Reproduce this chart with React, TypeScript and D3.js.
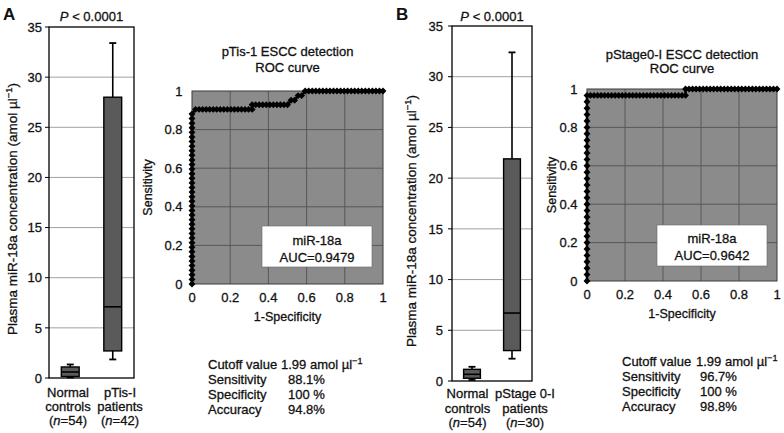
import React from "react";
import * as d3 from "d3";

const FONT = "'Liberation Sans', Arial, Helvetica, sans-serif";

// ---------- Box plot data ----------
const boxTicks = [0, 5, 10, 15, 20, 25, 30, 35];
const boxGrid = [5, 10, 15, 20, 25, 30];

const catsA = ["Normal controls", "pTis-I patients"];
const catLinesA = [["Normal", "controls"], ["pTis-I", "patients"]];
const catNA = [54, 42];
const boxMinA = [0.05, 1.85];
const boxQ1A = [0.15, 2.7];
const boxMedA = [0.6, 7.1];
const boxQ3A = [1.1, 28.0];
const boxMaxA = [1.35, 33.4];

const catsB = ["Normal controls", "pStage 0-I patients"];
const catLinesB = [["Normal", "controls"], ["pStage 0-I", "patients"]];
const catNB = [54, 30];
const boxMinB = [0.1, 2.2];
const boxQ1B = [0.27, 3.0];
const boxMedB = [0.66, 6.7];
const boxQ3B = [1.15, 21.9];
const boxMaxB = [1.4, 32.4];

// ---------- ROC data (counts: false positives of 54 controls, true positives of patients) ----------
const rocTicks = [0, 0.2, 0.4, 0.6, 0.8, 1];

const rocA_nNeg = 54;
const rocA_nPos = 42;
const rocA_fp = [
  0, 0, 0, 0, 0, 0, 0, 0, 0, 0, 0, 0, 0, 0, 0, 0, 0, 0, 0, 0,
  0, 0, 0, 0, 0, 0, 0, 0, 0, 0, 0, 0, 0, 0, 0, 0, 0, 0,
  1, 2, 3, 4, 5, 6, 7, 8, 9, 10, 11, 12, 13, 14, 15, 16, 17,
  17, 18, 19, 20, 21, 22, 23, 24, 25, 26, 27,
  28, 29, 30, 31, 32,
  33, 34, 35, 36, 37, 38, 39, 40, 41, 42, 43, 44, 45, 46, 47, 48, 49, 50, 51, 52, 53, 54,
];
const rocA_tp = [
  0, 1, 2, 3, 4, 5, 6, 7, 8, 9, 10, 11, 12, 13, 14, 15, 16, 17, 18, 19,
  20, 21, 22, 23, 24, 25, 26, 27, 28, 29, 30, 31, 32, 33, 34, 35, 36, 37,
  38, 38, 38, 38, 38, 38, 38, 38, 38, 38, 38, 38, 38, 38, 38, 38, 38,
  39, 39, 39, 39, 39, 39, 39, 39, 39, 39, 39,
  40, 40, 41, 41, 42,
  42, 42, 42, 42, 42, 42, 42, 42, 42, 42, 42, 42, 42, 42, 42, 42, 42, 42, 42, 42, 42, 42,
];

const rocB_nNeg = 54;
const rocB_nPos = 30;
const rocB_fp = [
  0, 0, 0, 0, 0, 0, 0, 0, 0, 0, 0, 0, 0, 0, 0, 0, 0, 0, 0, 0, 0, 0, 0, 0, 0, 0, 0, 0, 0, 0,
  1, 2, 3, 4, 5, 6, 7, 8, 9, 10, 11, 12, 13, 14, 15, 16, 17, 18, 19, 20, 21, 22, 23, 24, 25, 26, 27, 28,
  28,
  29, 30, 31, 32, 33, 34, 35, 36, 37, 38, 39, 40, 41, 42, 43, 44, 45, 46, 47, 48, 49, 50, 51, 52, 53, 54,
];
const rocB_tp = [
  0, 1, 2, 3, 4, 5, 6, 7, 8, 9, 10, 11, 12, 13, 14, 15, 16, 17, 18, 19, 20, 21, 22, 23, 24, 25, 26, 27, 28, 29,
  29, 29, 29, 29, 29, 29, 29, 29, 29, 29, 29, 29, 29, 29, 29, 29, 29, 29, 29, 29, 29, 29, 29, 29, 29, 29, 29, 29,
  30,
  30, 30, 30, 30, 30, 30, 30, 30, 30, 30, 30, 30, 30, 30, 30, 30, 30, 30, 30, 30, 30, 30, 30, 30, 30, 30,
];

const rocTitleA = ["pTis-1 ESCC detection", "ROC curve"];
const rocTitleB = ["pStage0-I ESCC detection", "ROC curve"];
const aucA = "0.9479";
const aucB = "0.9642";
const statLabels = ["Sensitivity", "Specificity", "Accuracy"];
const statValsA = ["88.1%", "100 %", "94.8%"];
const statValsB = ["96.7%", "100 %", "98.8%"];
const cutoffText = "1.99 amol µl";

const TXT = { stroke: "#111", strokeWidth: 0.3 } as const;

const Sup = ({ children }: { children: string }) => (
  <tspan baselineShift="super" fontSize="0.7em">{children}</tspan>
);

type BoxProps = {
  left: number; right: number; top: number; bottom: number;
  cats: string[]; lines: string[][]; ns: number[];
  mins: number[]; q1s: number[]; meds: number[]; q3s: number[]; maxs: number[];
  tickRight: number; labelX: number[]; labelY: number[];
  titleX: number; titleY: number; pY: number;
};

function BoxPanel(p: BoxProps) {
  const y = d3.scaleLinear().domain([0, 35]).range([p.bottom, p.top]);
  const x = d3.scalePoint<string>().domain(p.cats).range([p.left, p.right]).padding(0.5);
  const bw = (p.right - p.left) * 0.21;
  const cap = 3.5;
  const cx = (p.left + p.right) / 2;
  return (
    <g>
      {boxGrid.map((v) => (
        <line key={v} x1={p.left} x2={p.right} y1={y(v)} y2={y(v)} stroke="#a0a0a0" strokeWidth={1} />
      ))}
      <rect x={p.left} y={p.top} width={p.right - p.left} height={p.bottom - p.top} fill="none" stroke="#000" strokeWidth={1.3} />
      {boxTicks.map((v) => (
        <g key={v}>
          <line x1={p.left - 4} x2={p.left} y1={y(v)} y2={y(v)} stroke="#000" />
          <text x={p.tickRight} y={y(v)} dy="0.36em" textAnchor="end" fontSize={13} {...TXT}>{v}</text>
        </g>
      ))}
      {p.cats.map((c, i) => {
        const xc = x(c) as number;
        return (
          <g key={c}>
            <line x1={xc} x2={xc} y1={y(p.maxs[i])} y2={y(p.q3s[i])} stroke="#000" strokeWidth={1.6} />
            <line x1={xc} x2={xc} y1={y(p.q1s[i])} y2={y(p.mins[i])} stroke="#000" strokeWidth={1.6} />
            <line x1={xc - cap} x2={xc + cap} y1={y(p.maxs[i])} y2={y(p.maxs[i])} stroke="#000" strokeWidth={1.8} />
            <line x1={xc - cap} x2={xc + cap} y1={y(p.mins[i])} y2={y(p.mins[i])} stroke="#000" strokeWidth={1.8} />
            <rect x={xc - bw / 2} y={y(p.q3s[i])} width={bw} height={y(p.q1s[i]) - y(p.q3s[i])} fill="#5a5a5a" stroke="#000" strokeWidth={1.4} />
            <line x1={xc - bw / 2} x2={xc + bw / 2} y1={y(p.meds[i])} y2={y(p.meds[i])} stroke="#000" strokeWidth={1.6} />
            <text textAnchor="middle" fontSize={13} {...TXT}>
              <tspan x={p.labelX[i]} y={p.labelY[0]}>{p.lines[i][0]}</tspan>
              <tspan x={p.labelX[i]} y={p.labelY[1]}>{p.lines[i][1]}</tspan>
              <tspan x={p.labelX[i]} y={p.labelY[2]}>(<tspan fontStyle="italic">n</tspan>={p.ns[i]})</tspan>
            </text>
          </g>
        );
      })}
      <text x={cx} y={p.pY} textAnchor="middle" fontSize={13} {...TXT}>
        <tspan fontStyle="italic">P</tspan> {"< 0.0001"}
      </text>
      <text transform={`translate(${p.titleX},${p.titleY}) rotate(-90)`} textAnchor="middle" fontSize={13.5} {...TXT}>
        Plasma miR-18a concentration (amol µl<Sup>−1</Sup>)
      </text>
    </g>
  );
}

type RocProps = {
  left: number; right: number; top: number; bottom: number;
  fp: number[]; tp: number[]; nNeg: number; nPos: number;
  title: string[]; titleY: number[]; sensX: number; auc: string;
  legend: { x: number; y: number; w: number; h: number; y1: number; y2: number };
  stats: { lx: number; vx: number; cx: number; ys: number[]; vals: string[] };
};

function RocPanel(p: RocProps) {
  const x = d3.scaleLinear().domain([0, 1]).range([p.left, p.right]);
  const y = d3.scaleLinear().domain([0, 1]).range([p.bottom, p.top]);
  const pts: [number, number][] = p.fp.map((f, i) => [f / p.nNeg, p.tp[i] / p.nPos]);
  const line = d3.line<[number, number]>().x((d) => x(d[0])).y((d) => y(d[1]));
  const diamond = d3.symbol().type(d3.symbolSquare).size(24)() as string;
  const cx = (p.left + p.right) / 2;
  const cy = (p.top + p.bottom) / 2;
  return (
    <g>
      <rect x={p.left} y={p.top} width={p.right - p.left} height={p.bottom - p.top} fill="#8b8b8b" />
      {rocTicks.slice(1, -1).map((v) => (
        <g key={v}>
          <line x1={x(v)} x2={x(v)} y1={p.top} y2={p.bottom} stroke="#585858" strokeWidth={1} />
          <line x1={p.left} x2={p.right} y1={y(v)} y2={y(v)} stroke="#585858" strokeWidth={1} />
        </g>
      ))}
      <rect x={p.left} y={p.top} width={p.right - p.left} height={p.bottom - p.top} fill="none" stroke="#3a3a3a" strokeWidth={1} />
      {rocTicks.map((v) => (
        <g key={v}>
          <text x={p.left - 9.5} y={y(v)} dy="0.36em" textAnchor="end" fontSize={13} {...TXT}>{d3.format("~g")(v)}</text>
          <text x={x(v)} y={p.bottom + 18} textAnchor="middle" fontSize={13} {...TXT}>{d3.format("~g")(v)}</text>
        </g>
      ))}
      <text x={cx} y={p.bottom + 36.5} textAnchor="middle" fontSize={12.5} {...TXT}>1-Specificity</text>
      <text transform={`translate(${p.sensX},${cy}) rotate(-90)`} textAnchor="middle" fontSize={12.5} {...TXT}>Sensitivity</text>
      <text x={cx} y={p.titleY[0]} textAnchor="middle" fontSize={13} {...TXT}>{p.title[0]}</text>
      <text x={cx} y={p.titleY[1]} textAnchor="middle" fontSize={13} {...TXT}>{p.title[1]}</text>
      <path d={line(pts) as string} fill="none" stroke="#000" strokeWidth={2.5} />
      {pts.map((d, i) => (
        <path key={i} d={diamond} transform={`translate(${x(d[0])},${y(d[1])}) rotate(45)`} fill="#000" />
      ))}
      <rect x={p.legend.x} y={p.legend.y} width={p.legend.w} height={p.legend.h} fill="#fff" stroke="#666" strokeWidth={0.6} />
      <text x={p.legend.x + p.legend.w / 2} y={p.legend.y1} textAnchor="middle" fontSize={13} {...TXT}>miR-18a</text>
      <text x={p.legend.x + p.legend.w / 2} y={p.legend.y2} textAnchor="middle" fontSize={13} {...TXT}>AUC={p.auc}</text>
      <text x={p.stats.lx} y={p.stats.ys[0]} fontSize={13} {...TXT}>Cutoff value</text>
      <text x={p.stats.cx} y={p.stats.ys[0]} fontSize={13} {...TXT}>{cutoffText}<Sup>−1</Sup></text>
      {statLabels.map((s, i) => (
        <g key={s}>
          <text x={p.stats.lx} y={p.stats.ys[i + 1]} fontSize={13} {...TXT}>{s}</text>
          <text x={p.stats.vx} y={p.stats.ys[i + 1]} fontSize={13} {...TXT}>{p.stats.vals[i]}</text>
        </g>
      ))}
    </g>
  );
}

export default function App() {
  return (
    <svg
      width={784}
      height={433}
      viewBox="0 0 784 433"
      style={{ position: "absolute", left: 0, top: 0, background: "#fff" }}
      fontFamily={FONT}
      fill="#111"
    >
      <text x={3} y={20} fontSize={17} fontWeight="bold">A</text>
      <text x={396} y={20} fontSize={17} fontWeight="bold">B</text>
      <BoxPanel
        left={49} right={134} top={27} bottom={378}
        cats={catsA} lines={catLinesA} ns={catNA}
        mins={boxMinA} q1s={boxQ1A} meds={boxMedA} q3s={boxQ3A} maxs={boxMaxA}
        tickRight={42} labelX={[68, 120]} labelY={[397, 411, 425]}
        titleX={16.5} titleY={209} pY={20.5}
      />
      <RocPanel
        left={192} right={383} top={91} bottom={284}
        fp={rocA_fp} tp={rocA_tp} nNeg={rocA_nNeg} nPos={rocA_nPos}
        title={rocTitleA} titleY={[56, 71.5]} sensX={152} auc={aucA}
        legend={{ x: 262, y: 226, w: 110, h: 41, y1: 245, y2: 262 }}
        stats={{ lx: 208, vx: 288, cx: 281, ys: [369, 384, 399, 414], vals: statValsA }}
      />
      <BoxPanel
        left={452} right={532} top={26} bottom={381}
        cats={catsB} lines={catLinesB} ns={catNB}
        mins={boxMinB} q1s={boxQ1B} meds={boxMedB} q3s={boxQ3B} maxs={boxMaxB}
        tickRight={443} labelX={[467.5, 525]} labelY={[398, 413, 427]}
        titleX={415.5} titleY={221} pY={20.5}
      />
      <RocPanel
        left={587} right={777} top={89} bottom={281}
        fp={rocB_fp} tp={rocB_tp} nNeg={rocB_nNeg} nPos={rocB_nPos}
        title={rocTitleB} titleY={[59, 73]} sensX={556} auc={aucB}
        legend={{ x: 657, y: 225, w: 110, h: 41, y1: 243, y2: 260 }}
        stats={{ lx: 622, vx: 700, cx: 696, ys: [366, 381, 396, 411], vals: statValsB }}
      />
    </svg>
  );
}
